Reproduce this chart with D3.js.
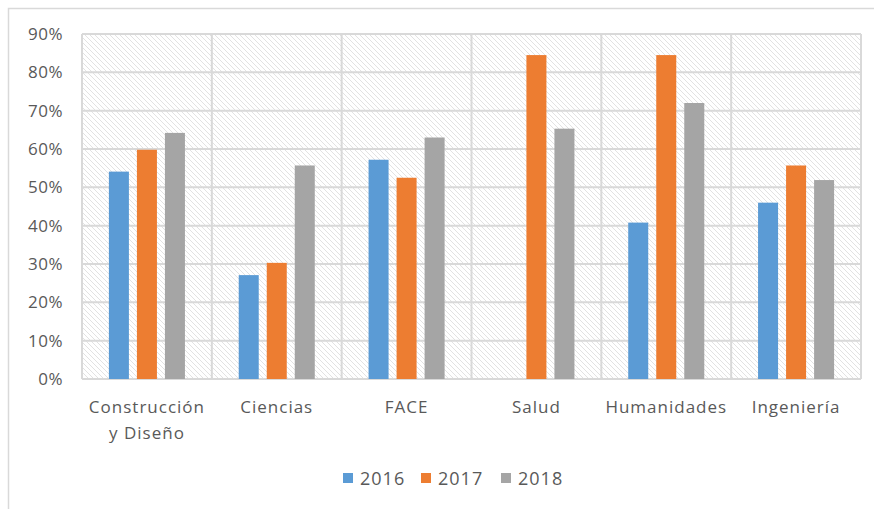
<!DOCTYPE html>
<html>
<head>
<meta charset="utf-8">
<script src="https://cdn.jsdelivr.net/npm/d3@7"></script>
<style>
  body { margin: 0; background: #ffffff; }
  svg { display: block; }
  .tick text { font-family: "Open Sans", "DejaVu Sans", sans-serif; fill: #595959; }
</style>
</head>
<body>
<svg id="chart"></svg>
<script>
// DATA
var categories = ["Construcción\ny Diseño", "Ciencias", "FACE", "Salud", "Humanidades", "Ingeniería"];
var seriesNames = ["2016", "2017", "2018"];
var values2016 = [0.541, 0.271, 0.572, null, 0.408, 0.460];
var values2017 = [0.598, 0.303, 0.525, 0.845, 0.845, 0.557];
var values2018 = [0.642, 0.557, 0.630, 0.653, 0.720, 0.519];
var yTicks = [0, 0.1, 0.2, 0.3, 0.4, 0.5, 0.6, 0.7, 0.8, 0.9];
var colors = ["#5B9BD5", "#ED7D31", "#A5A5A5"];

var seriesValues = [values2016, values2017, values2018];

// SIZES
var width = 874, height = 509;
var plot = {left: 82, right: 861, top: 34, bottom: 379};
var font = '"Open Sans", "DejaVu Sans", sans-serif';

var svg = d3.select("#chart").attr("width", width).attr("height", height);

// outer chart frame (cropped at right and bottom)
svg.append("path")
  .attr("d", "M8.5," + height + " V8.5 H" + width)
  .attr("fill", "none")
  .attr("stroke", "#d9d9d9")
  .attr("stroke-width", 1.5);

// HATCH PATTERN
var defs = svg.append("defs");
var pat = defs.append("pattern")
  .attr("id", "hatch")
  .attr("patternUnits", "userSpaceOnUse")
  .attr("width", 5).attr("height", 5);
pat.append("rect").attr("width", 5).attr("height", 5).attr("fill", "#ffffff");
pat.append("path")
  .attr("d", "M-1,4 l2,2 M0,0 l5,5 M4,-1 l2,2")
  .attr("stroke", "#e2e2e2")
  .attr("stroke-width", 1);

// SCALES
var x0 = d3.scaleBand()
  .domain(categories)
  .range([plot.left, plot.right])
  .padding(0);

var x1 = d3.scaleBand()
  .domain(seriesNames)
  .range([0, x0.bandwidth()])
  .paddingInner(0.2857)
  .paddingOuter(0.96);

var y = d3.scaleLinear()
  .domain([0, 0.9])
  .range([plot.bottom, plot.top]);

// plot background
svg.append("rect")
  .attr("x", plot.left).attr("y", plot.top)
  .attr("width", plot.right - plot.left)
  .attr("height", plot.bottom - plot.top)
  .attr("fill", "url(#hatch)");

// GRID LINES
svg.append("g")
  .selectAll("line")
  .data(yTicks)
  .enter().append("line")
  .attr("x1", plot.left).attr("x2", plot.right)
  .attr("y1", function(d) { return y(d); })
  .attr("y2", function(d) { return y(d); })
  .attr("stroke", "#d9d9d9")
  .attr("stroke-width", 2);

var vlines = categories.map(function(c) { return x0(c); }).concat([plot.right]);
svg.append("g")
  .selectAll("line")
  .data(vlines)
  .enter().append("line")
  .attr("x1", function(d) { return d; }).attr("x2", function(d) { return d; })
  .attr("y1", plot.top).attr("y2", plot.bottom)
  .attr("stroke", "#d9d9d9")
  .attr("stroke-width", 2);

// Y AXIS
var yAxis = d3.axisLeft(y)
  .tickValues(yTicks)
  .tickFormat(d3.format(".0%"))
  .tickSize(0)
  .tickPadding(19);

var yG = svg.append("g")
  .attr("transform", "translate(" + plot.left + ",0)")
  .call(yAxis);
yG.select(".domain").remove();
yG.selectAll("text")
  .style("font-size", "17px")
  .style("font-family", font)
  .style("letter-spacing", "0.5px")
  .attr("fill", "#595959");

// BARS
var rows = [];
categories.forEach(function(c, i) {
  seriesNames.forEach(function(s, j) {
    var v = seriesValues[j][i];
    if (v !== null) rows.push({cat: c, series: s, value: v, color: colors[j]});
  });
});

svg.append("g")
  .selectAll("rect")
  .data(rows)
  .enter().append("rect")
  .attr("x", function(d) { return x0(d.cat) + x1(d.series); })
  .attr("y", function(d) { return y(d.value); })
  .attr("width", x1.bandwidth())
  .attr("height", function(d) { return y(0) - y(d.value); })
  .attr("fill", function(d) { return d.color; });

// X AXIS LABELS
var xAxis = d3.axisBottom(x0).tickSize(0).tickPadding(0);
var xG = svg.append("g")
  .attr("transform", "translate(0," + plot.bottom + ")")
  .call(xAxis);
xG.select(".domain").remove();
xG.selectAll(".tick text").each(function(d) {
  var t = d3.select(this);
  var lines = d.split("\n");
  t.text(null)
    .attr("y", 0)
    .attr("dy", null)
    .style("font-size", "17px")
    .style("font-family", font)
    .style("letter-spacing", "1px")
    .attr("fill", "#595959");
  lines.forEach(function(l, k) {
    t.append("tspan")
      .attr("x", 0)
      .attr("y", 34 + k * 26)
      .text(l);
  });
});

// LEGEND
var legendX = [343, 421, 501];
var legend = svg.append("g")
  .selectAll("g")
  .data(seriesNames)
  .enter().append("g")
  .attr("transform", function(d, i) { return "translate(" + legendX[i] + ",473)"; });
legend.append("rect")
  .attr("width", 10).attr("height", 10)
  .attr("fill", function(d, i) { return colors[i]; });
legend.append("text")
  .attr("x", 17).attr("y", 11.5)
  .style("font-size", "18px")
  .style("font-family", font)
  .style("letter-spacing", "1px")
  .attr("fill", "#595959")
  .text(function(d) { return d; });
</script>
</body>
</html>
